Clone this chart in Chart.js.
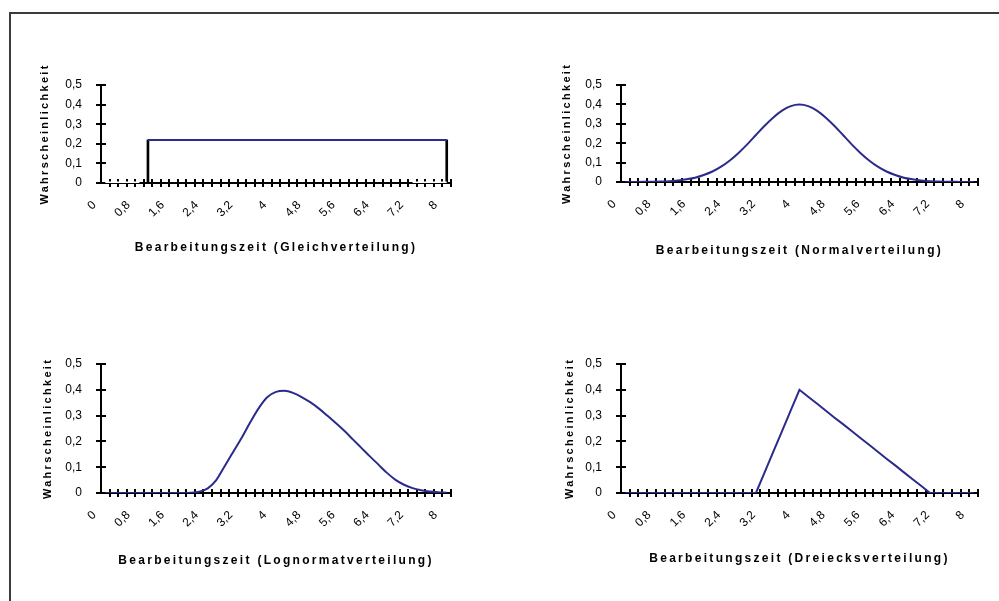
<!DOCTYPE html>
<html>
<head>
<meta charset="utf-8">
<script src="https://cdn.jsdelivr.net/npm/chart.js@4.4.0/dist/chart.umd.min.js"></script>
<style>
  html, body { margin: 0; padding: 0; background: #fff; }
  body { width: 999px; height: 601px; position: relative; overflow: hidden; }
  #rahmen { position: absolute; left: 9px; top: 12px; width: 1000px; height: 600px;
            border-left: 2px solid #3c3c3c; border-top: 2px solid #3c3c3c; }
  canvas { position: absolute; }
</style>
</head>
<body>
<div id="rahmen"></div>
<canvas id="gleich" width="500" height="300" style="left:0;top:0"></canvas>
<canvas id="normal" width="499" height="300" style="left:500px;top:0"></canvas>
<canvas id="lognormal" width="500" height="301" style="left:0;top:300px"></canvas>
<canvas id="dreieck" width="499" height="301" style="left:500px;top:300px"></canvas>
<script>
// Kategorien (Bearbeitungszeit), Schritt 0,2
const zeit = ['0','0,2','0,4','0,6','0,8','1','1,2','1,4','1,6','1,8',
              '2','2,2','2,4','2,6','2,8','3','3,2','3,4','3,6','3,8',
              '4','4,2','4,4','4,6','4,8','5','5,2','5,4','5,6','5,8',
              '6','6,2','6,4','6,6','6,8','7','7,2','7,4','7,6','7,8','8'];
const yTicks = [0, 0.1, 0.2, 0.3, 0.4, 0.5];

// Gleichverteilung
const gleichWert = [null,null,null,null,null,0.22,0.22,0.22,0.22,0.22,
                    0.22,0.22,0.22,0.22,0.22,0.22,0.22,0.22,0.22,0.22,
                    0.22,0.22,0.22,0.22,0.22,0.22,0.22,0.22,0.22,0.22,
                    0.22,0.22,0.22,0.22,0.22,0.22,0.22,0.22,0.22,0.22,0.22];
const gleichNull = [0,0,0,0,0,null,null,null,null,null,
                    null,null,null,null,null,null,null,null,null,null,
                    null,null,null,null,null,null,null,null,null,null,
                    null,null,null,null,null,null,0,0,0,0,0];
const gleichKante = [null,null,null,null,null,[0,0.22],null,null,null,null,
                     null,null,null,null,null,null,null,null,null,null,
                     null,null,null,null,null,null,null,null,null,null,
                     null,null,null,null,null,null,null,null,null,null,[0,0.22]];

// Normalverteilung
const normalWert = [0,0,0.001,0.001,0.002,0.004,0.008,0.014,0.022,0.036,
                    0.054,0.079,0.111,0.150,0.194,0.242,0.290,0.333,0.368,0.391,
                    0.399,0.391,0.368,0.333,0.290,0.242,0.194,0.150,0.111,0.079,
                    0.054,0.036,0.022,0.014,0.008,0.004,0.002,0.001,0.001,0,0];

// Lognormalverteilung
const lognormalWert = [0,0,0,0,0,0,0,0,0,0,
                       0.001,0.005,0.018,0.05,0.105,0.16,0.215,0.275,0.33,0.372,
                       0.392,0.396,0.388,0.372,0.352,0.328,0.3,0.271,0.241,0.208,
                       0.175,0.142,0.11,0.078,0.051,0.032,0.019,0.011,0.006,0.003,0.001];

// Dreiecksverteilung
const dreieckWert = [0,0,0,0,0,0,0,0,0,0,
                     0,0,0,0,0,0,0.08,0.16,0.24,0.32,
                     0.4,0.373,0.347,0.32,0.293,0.267,0.24,0.213,0.187,0.16,
                     0.133,0.107,0.08,0.053,0.027,0,0,0,0,0,0];

const linie = '#2b2b8c';
const schrift = "'Liberation Sans', Arial, sans-serif";

// Kreuzende Teilstriche wie in Excel, Achsentitel gesperrt
const kreuzTicks = {
    id: 'kreuzTicks',
    beforeDraw(chart) {
        chart.ctx.letterSpacing = '2.3px';
    },
    beforeDatasetsDraw(chart) {
        const ctx = chart.ctx;
        ctx.letterSpacing = '0px';
        const x = chart.scales.x, y = chart.scales.y;
        const y0 = Math.round(y.getPixelForValue(0));
        const x0 = Math.round(chart.chartArea.left);
        const step = x.getPixelForValue(1) - x.getPixelForValue(0);
        ctx.save();
        ctx.strokeStyle = '#000';
        ctx.lineWidth = 2;
        ctx.beginPath();
        for (let i = 1; i <= zeit.length; i++) {
            const px = Math.round(x.getPixelForValue(i) - step / 2);
            ctx.moveTo(px, y0 - 4);
            ctx.lineTo(px, y0 + 4);
        }
        yTicks.forEach(v => {
            const py = Math.round(y.getPixelForValue(v));
            ctx.moveTo(x0 - 5, py);
            ctx.lineTo(x0 + 5, py);
        });
        ctx.stroke();
        ctx.restore();
    }
};

function optionen(b) {
    return {
        responsive: false,
        animation: false,
        events: [],
        layout: { padding: { left: 0, top: b.oben, right: b.rechts, bottom: 0 } },
        plugins: { legend: { display: false }, tooltip: { enabled: false } },
        elements: { point: { radius: 0 } },
        scales: {
            x: {
                type: 'category',
                offset: true,
                grid: { display: false, drawTicks: false },
                border: { display: true, color: '#000', width: 2 },
                ticks: {
                    autoSkip: false, minRotation: 45, maxRotation: 45,
                    padding: 15, labelOffset: -11, color: '#000', z: 1,
                    font: { family: schrift, size: 12 },
                    callback: function (v, i) { return i % 4 === 0 ? zeit[i] : ''; }
                },
                title: {
                    display: true, text: b.titel, color: '#000',
                    font: { family: schrift, size: 12, weight: 'bold' },
                    padding: { top: 0, bottom: b.titelUnten }
                },
                afterFit: s => { s.height = b.xHoehe; }
            },
            y: {
                min: 0, max: 0.5,
                grid: { display: false, drawTicks: false },
                border: { display: true, color: '#000', width: 2 },
                ticks: {
                    stepSize: 0.1, padding: 19, color: '#000', z: 1,
                    font: { family: schrift, size: 12 },
                    callback: v => String(Math.round(v * 10) / 10).replace('.', ',')
                },
                title: {
                    display: true, text: 'Wahrscheinlichkeit', color: '#000',
                    font: { family: schrift, size: 11, weight: 'bold' },
                    padding: { top: b.titelLinks, bottom: 0 }
                },
                afterFit: s => { s.width = b.yBreite; }
            }
        }
    };
}

new Chart(document.getElementById('gleich'), {
    data: {
        labels: zeit,
        datasets: [
            { type: 'line', data: gleichNull, borderColor: '#fff', borderWidth: 3, order: 0, tension: 0 },
            { type: 'line', data: gleichWert, borderColor: linie, borderWidth: 2, order: 1, tension: 0 },
            { type: 'bar', data: gleichKante, backgroundColor: '#000', barThickness: 2, order: 2 }
        ]
    },
    options: optionen({ oben: 85, rechts: 49, xHoehe: 117, yBreite: 101, titelUnten: 45, titelLinks: 38,
                        titel: 'Bearbeitungszeit (Gleichverteilung)' }),
    plugins: [kreuzTicks]
});

new Chart(document.getElementById('normal'), {
    type: 'line',
    data: { labels: zeit, datasets: [{ data: normalWert, borderColor: linie, borderWidth: 2, cubicInterpolationMode: 'monotone' }] },
    options: optionen({ oben: 85, rechts: 21, xHoehe: 118, yBreite: 121, titelUnten: 42, titelLinks: 60,
                        titel: 'Bearbeitungszeit (Normalverteilung)' }),
    plugins: [kreuzTicks]
});

new Chart(document.getElementById('lognormal'), {
    type: 'line',
    data: { labels: zeit, datasets: [{ data: lognormalWert, borderColor: linie, borderWidth: 2, cubicInterpolationMode: 'monotone' }] },
    options: optionen({ oben: 64, rechts: 49, xHoehe: 108, yBreite: 101, titelUnten: 33, titelLinks: 41,
                        titel: 'Bearbeitungszeit (Lognormatverteilung)' }),
    plugins: [kreuzTicks]
});

new Chart(document.getElementById('dreieck'), {
    type: 'line',
    data: { labels: zeit, datasets: [{ data: dreieckWert, borderColor: linie, borderWidth: 2, tension: 0 }] },
    options: optionen({ oben: 64, rechts: 21, xHoehe: 108, yBreite: 121, titelUnten: 35, titelLinks: 63,
                        titel: 'Bearbeitungszeit (Dreiecksverteilung)' }),
    plugins: [kreuzTicks]
});
</script>
</body>
</html>
